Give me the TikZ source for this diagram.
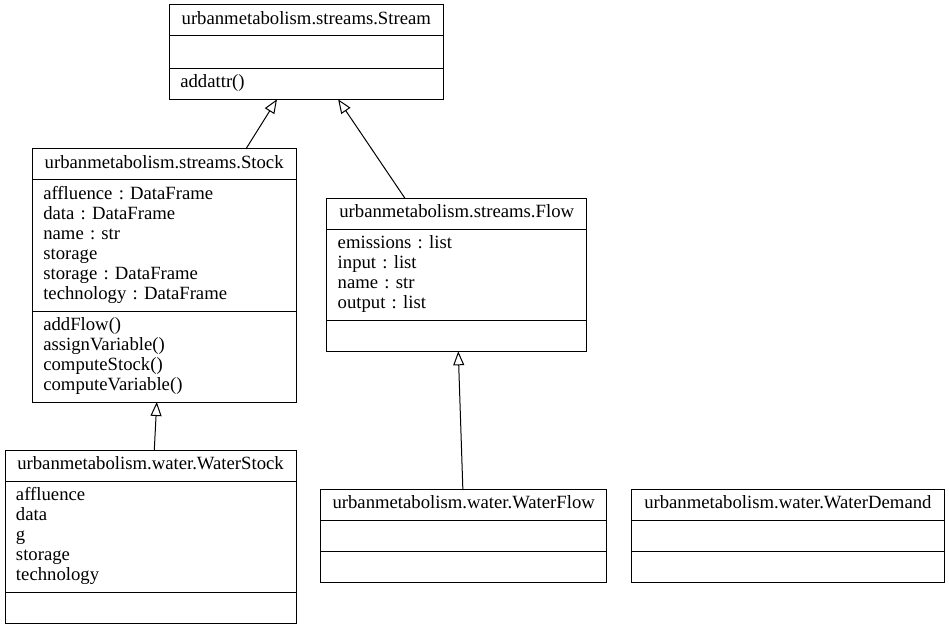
\documentclass[tikz,border=0pt]{standalone}
\usepackage{fontspec}
\setmainfont{Liberation Serif}
\frenchspacing
\usetikzlibrary{positioning,calc,arrows.meta}
\tikzset{
  umlpart/.style={draw,line width=1pt,outer sep=0pt,inner xsep=11pt,inner ysep=5.5pt,
    font=\fontsize{18.7}{20}\selectfont,execute at begin node=\strut,execute at end node=\strut},
  umltitle/.style={umlpart,align=center,text width=#1},
  umlbody/.style={umlpart,align=left,text width=#1},
  inherits/.style={line width=1pt,-{Triangle[open,length=14pt,width=11pt]}}
}
\begin{document}
\begin{tikzpicture}[x=1pt,y=-1pt]
\useasboundingbox (0,0) rectangle (949,628);
% Stream
\node[umltitle=252pt,anchor=north west] (stream) at (169.3,5) {urbanmetabolism.streams.Stream};
\node[umlbody=252pt,below=0pt of stream,minimum height=32.3pt] (streamattr) {};
\node[umlbody=252pt,below=0pt of streamattr] (streammeth) {addattr()};
% Stock
\node[umltitle=241.7pt,anchor=north west] (stock) at (32.3,149) {urbanmetabolism.streams.Stock};
\node[umlbody=241.7pt,below=0pt of stock] (stockattr) {affluence : DataFrame\\data : DataFrame\\name : str\\storage\\storage : DataFrame\\technology : DataFrame};
\node[umlbody=241.7pt,below=0pt of stockattr] (stockmeth) {addFlow()\\assignVariable()\\computeStock()\\computeVariable()};
% Flow
\node[umltitle=238pt,anchor=north west] (flow) at (326.7,198.3) {urbanmetabolism.streams.Flow};
\node[umlbody=238pt,below=0pt of flow] (flowattr) {emissions : list\\input : list\\name : str\\output : list};
\node[umlbody=238pt,below=0pt of flowattr] (flowmeth) {};
% WaterStock
\node[umltitle=269pt,anchor=north west] (waterstock) at (5,450) {urbanmetabolism.water.WaterStock};
\node[umlbody=269pt,below=0pt of waterstock] (waterstockattr) {affluence\\data\\g\\storage\\technology};
\node[umlbody=269pt,below=0pt of waterstockattr] (waterstockmeth) {};
% WaterFlow
\node[umltitle=264pt,anchor=north west] (waterflow) at (320.7,489) {urbanmetabolism.water.WaterFlow};
\node[umlbody=264pt,below=0pt of waterflow,minimum height=31.7pt] (waterflowattr) {};
\node[umlbody=264pt,below=0pt of waterflowattr] (waterflowmeth) {};
% WaterDemand
\node[umltitle=290.3pt,anchor=north west] (waterdemand) at (631.7,489) {urbanmetabolism.water.WaterDemand};
\node[umlbody=290.3pt,below=0pt of waterdemand,minimum height=31.7pt] (waterdemandattr) {};
\node[umlbody=290.3pt,below=0pt of waterdemandattr] (waterdemandmeth) {};
% inheritance
\draw[inherits] ($(stock.north west)!0.81!(stock.north east)$) -- ($(streammeth.south west)!0.393!(streammeth.south east)$);
\draw[inherits] ($(flow.north west)!0.301!(flow.north east)$) -- ($(streammeth.south west)!0.616!(streammeth.south east)$);
\draw[inherits] ($(waterstock.north west)!0.513!(waterstock.north east)$) -- ($(stockmeth.south west)!0.472!(stockmeth.south east)$);
\draw[inherits] ($(waterflow.north west)!0.497!(waterflow.north east)$) -- ($(flowmeth.south west)!0.506!(flowmeth.south east)$);
\end{tikzpicture}
\end{document}
